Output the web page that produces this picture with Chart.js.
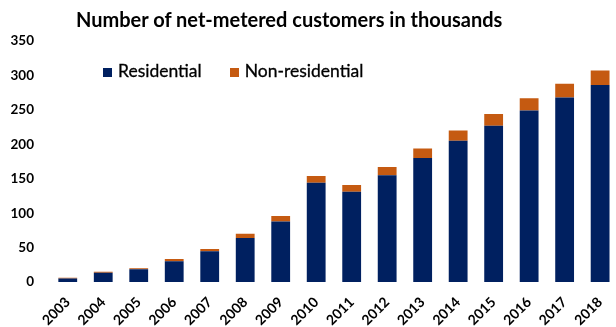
<!DOCTYPE html>
<html>
<head>
<meta charset="utf-8">
<script src="https://cdn.jsdelivr.net/npm/chart.js@4/dist/chart.umd.min.js"></script>
<style>
  html, body { margin: 0; padding: 0; overflow: hidden; background: #fff; }
  #wrap { position: relative; width: 624px; height: 327px; }
  #title {
    position: absolute; left: 76px; top: 7px;
    font: bold 20px Lato, sans-serif; color: #000; white-space: nowrap;
  }
  #legend {
    position: absolute; left: 103px; top: 60px;
    font: 17.5px Lato, sans-serif; color: #000; white-space: nowrap;
    -webkit-text-stroke: 0.3px #000;
  }
  #legend span.item { display: inline-block; margin-right: 28px; }
  #legend i {
    display: inline-block; width: 9px; height: 9px; margin-right: 6px;
    vertical-align: 0px;
  }
</style>
</head>
<body>
<div id="wrap">
  <canvas id="chart" width="624" height="327"></canvas>
  <div id="title">Number of net-metered customers in thousands</div>
  <div id="legend"></div>
</div>
<script>
var years = ['2003','2004','2005','2006','2007','2008','2009','2010',
             '2011','2012','2013','2014','2015','2016','2017','2018'];
var residential = [5, 13.5, 18.5, 30, 44.5, 64, 88, 144,
                   131, 155, 180, 205, 227, 249, 268, 286];
var nonResidential = [1.2, 1.5, 1.5, 3.5, 3.5, 6, 8, 10,
                      10, 12, 14, 15, 17, 18, 20, 21];
var yTicks = [0, 50, 100, 150, 200, 250, 300, 350];

var colors = ['#002060', '#C55A11'];
var names = ['Residential', 'Non-residential'];

var chart = new Chart(document.getElementById('chart'), {
    type: 'bar',
    data: {
        labels: years,
        datasets: [{
            label: names[0],
            data: residential,
            backgroundColor: colors[0],
            barPercentage: 0.53,
            categoryPercentage: 1
        }, {
            label: names[1],
            data: nonResidential,
            backgroundColor: colors[1],
            barPercentage: 0.53,
            categoryPercentage: 1
        }]
    },
    options: {
        responsive: false,
        animation: false,
        layout: { padding: { top: 41, right: 0, left: 0, bottom: 0 } },
        plugins: {
            legend: { display: false },
            title: { display: false },
            tooltip: { enabled: false }
        },
        scales: {
            x: {
                stacked: true,
                grid: { display: false, drawTicks: false },
                border: { display: false },
                ticks: {
                    color: '#000',
                    font: { family: 'Lato', size: 14, weight: 'bold' },
                    minRotation: 45,
                    maxRotation: 45,
                    autoSkip: false,
                    padding: 12
                },
                afterFit: function(scale) { scale.height = 45; }
            },
            y: {
                stacked: true,
                min: yTicks[0],
                max: yTicks[yTicks.length - 1],
                grid: { display: false, drawTicks: false },
                border: { display: false },
                ticks: {
                    color: '#000',
                    font: { family: 'Lato', size: 13.5, weight: 'bold' },
                    stepSize: yTicks[1] - yTicks[0],
                    padding: 16
                },
                afterFit: function(scale) { scale.width = 50; }
            }
        }
    }
});

// legend built from the datasets
var legend = document.getElementById('legend');
chart.data.datasets.forEach(function(ds){
    var item = document.createElement('span');
    item.className = 'item';
    var box = document.createElement('i');
    box.style.background = ds.backgroundColor;
    item.appendChild(box);
    item.appendChild(document.createTextNode(ds.label));
    legend.appendChild(item);
});
</script>
</body>
</html>
